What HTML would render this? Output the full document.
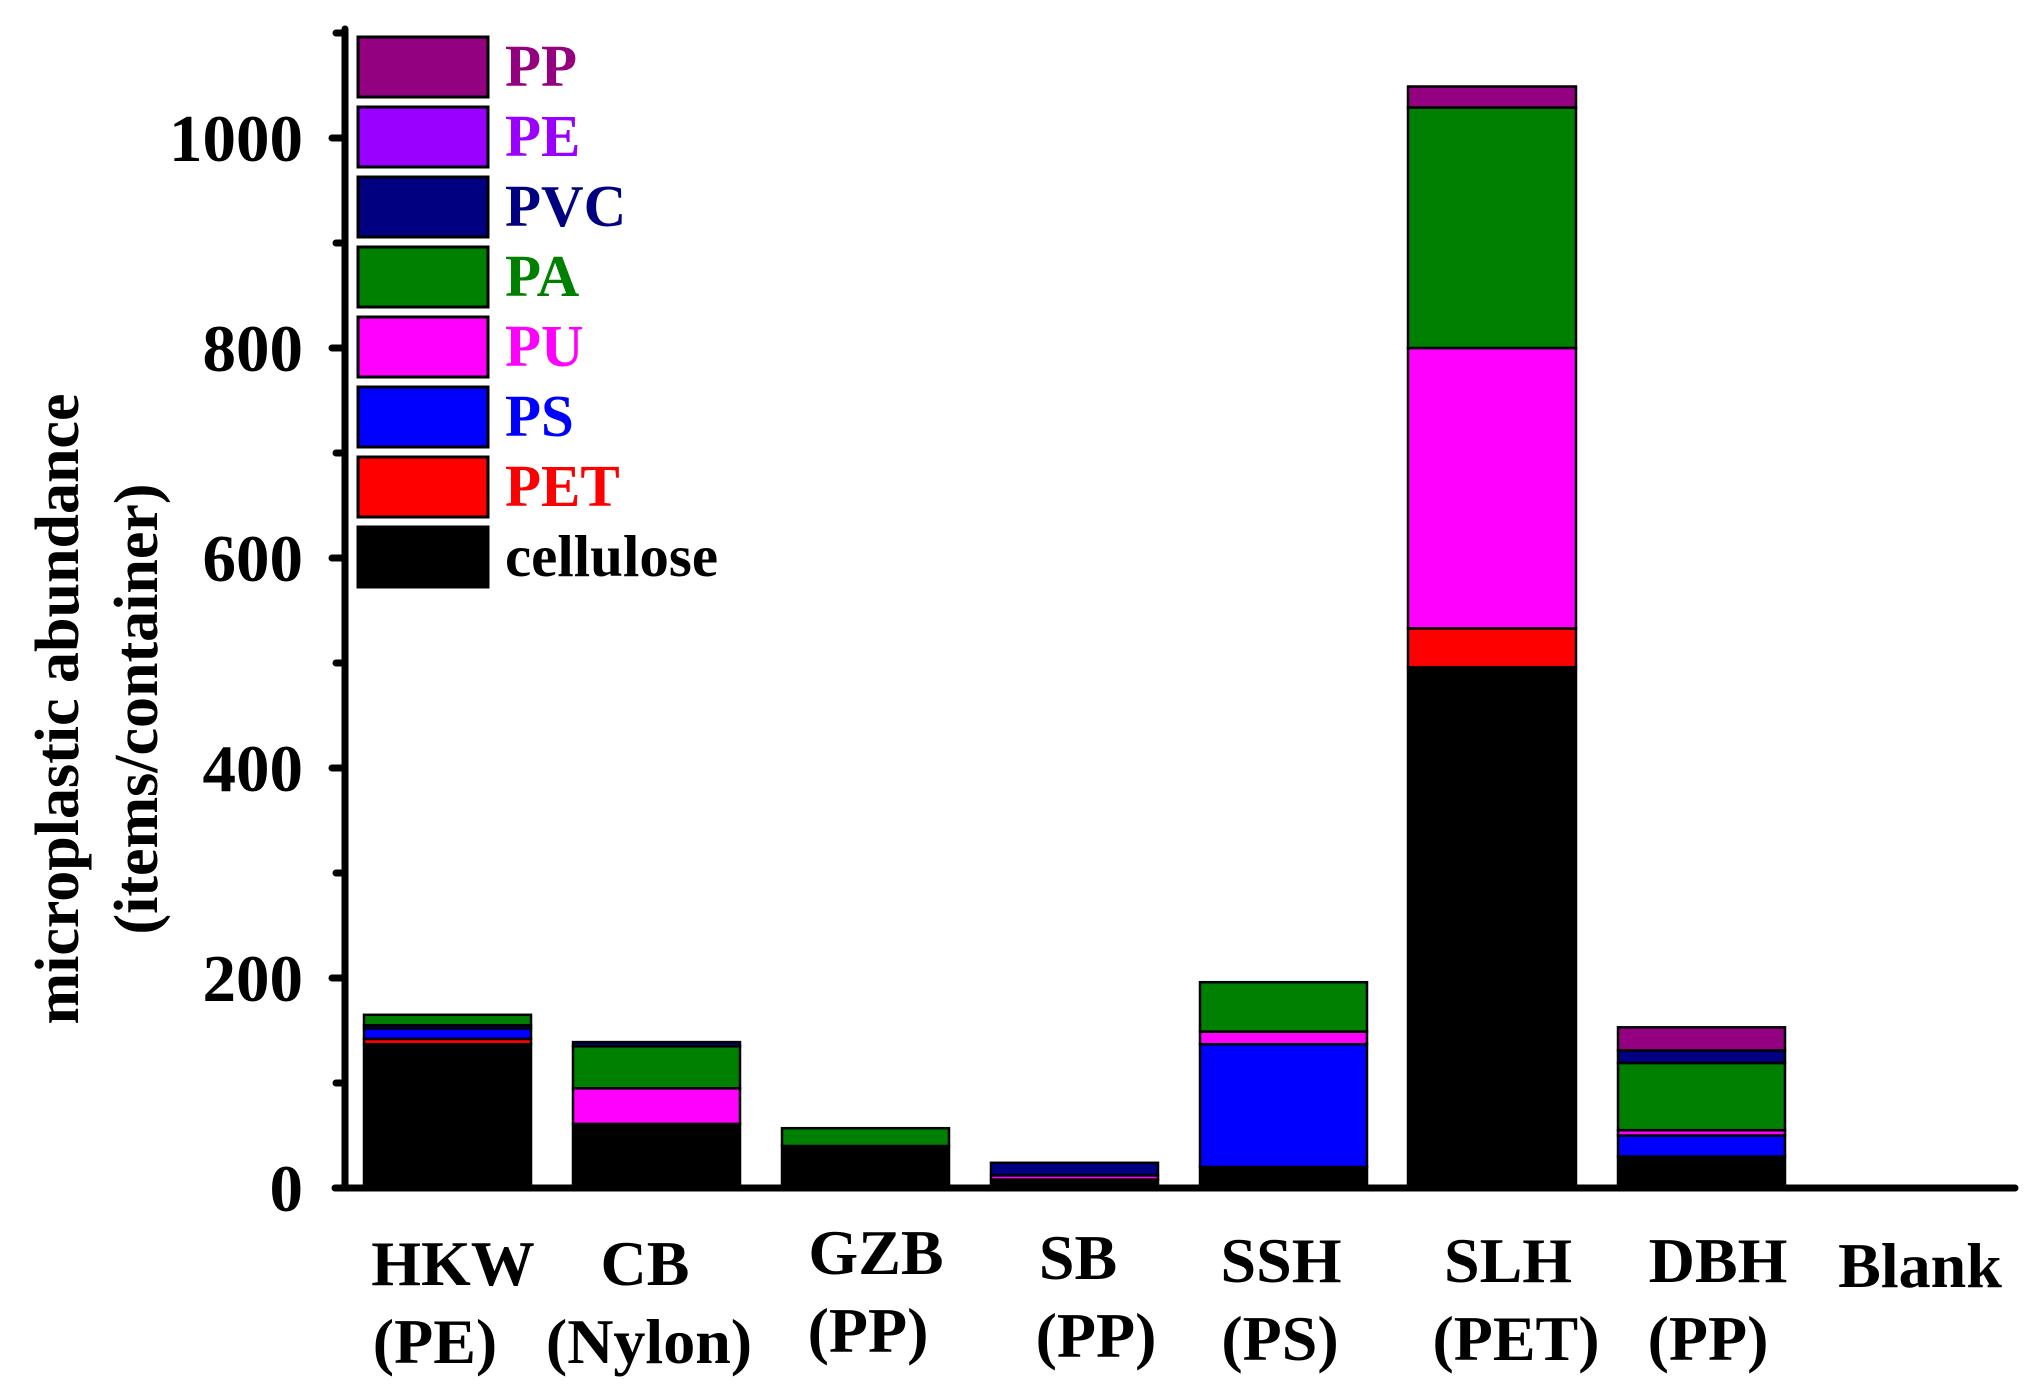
<!DOCTYPE html>
<html><head><meta charset="utf-8"><style>
html,body{margin:0;padding:0;background:#fff;}
svg{display:block;}
text{font-family:"Liberation Serif",serif;font-weight:bold;}
</style></head><body>
<svg width="2040" height="1390" viewBox="0 0 2040 1390" xmlns="http://www.w3.org/2000/svg">
<rect width="2040" height="1390" fill="#fff"/>
<g stroke="#000" stroke-width="2.5">
<rect x="364" y="1044.2" width="167" height="143.8" fill="#000"/>
<rect x="364" y="1038.9" width="167" height="5.3" fill="#f00"/>
<rect x="364" y="1028.4" width="167" height="10.5" fill="#00f"/>
<rect x="364" y="1025.2" width="167" height="3.2" fill="#000080"/>
<rect x="364" y="1014.8" width="167" height="10.4" fill="#008000"/>
<rect x="573" y="1123.9" width="167" height="64.1" fill="#000"/>
<rect x="573" y="1088.3" width="167" height="35.6" fill="#f0f"/>
<rect x="573" y="1046.3" width="167" height="42" fill="#008000"/>
<rect x="573" y="1042.1" width="167" height="4.2" fill="#000080"/>
<rect x="782" y="1146" width="167" height="42" fill="#000"/>
<rect x="782" y="1128.2" width="167" height="17.8" fill="#008000"/>
<rect x="991" y="1179.6" width="167" height="8.4" fill="#000"/>
<rect x="991" y="1175.4" width="167" height="4.2" fill="#f0f"/>
<rect x="991" y="1162.8" width="167" height="12.6" fill="#000080"/>
<rect x="1200" y="1167" width="167" height="21" fill="#000"/>
<rect x="1200" y="1044.2" width="167" height="122.8" fill="#00f"/>
<rect x="1200" y="1031.6" width="167" height="12.6" fill="#f0f"/>
<rect x="1200" y="982.2" width="167" height="49.4" fill="#008000"/>
<rect x="1408" y="667.2" width="168" height="520.8" fill="#000"/>
<rect x="1408" y="628.4" width="168" height="38.8" fill="#f00"/>
<rect x="1408" y="348" width="168" height="280.4" fill="#f0f"/>
<rect x="1408" y="107.5" width="168" height="240.5" fill="#008000"/>
<rect x="1408" y="86.5" width="168" height="21" fill="#930080"/>
<rect x="1618" y="1156.5" width="167" height="31.5" fill="#000"/>
<rect x="1618" y="1135.5" width="167" height="21" fill="#00f"/>
<rect x="1618" y="1130.2" width="167" height="5.3" fill="#f0f"/>
<rect x="1618" y="1063" width="167" height="67.2" fill="#008000"/>
<rect x="1618" y="1050.4" width="167" height="12.6" fill="#000080"/>
<rect x="1618" y="1027.3" width="167" height="23.1" fill="#930080"/>
</g>
<g stroke="#000" stroke-width="7" stroke-linecap="round">
<line x1="345" y1="29" x2="345" y2="1188"/>
<line x1="335" y1="1188" x2="2015" y2="1188"/>
<line x1="332" y1="978" x2="345" y2="978"/>
<line x1="332" y1="768" x2="345" y2="768"/>
<line x1="332" y1="558" x2="345" y2="558"/>
<line x1="332" y1="348" x2="345" y2="348"/>
<line x1="332" y1="138" x2="345" y2="138"/>
<line x1="336" y1="1083" x2="345" y2="1083"/>
<line x1="336" y1="873" x2="345" y2="873"/>
<line x1="336" y1="663" x2="345" y2="663"/>
<line x1="336" y1="453" x2="345" y2="453"/>
<line x1="336" y1="243" x2="345" y2="243"/>
<line x1="336" y1="33" x2="345" y2="33"/>
</g>
<g font-size="67" text-anchor="end">
<text x="303" y="1211">0</text>
<text x="303" y="1001">200</text>
<text x="303" y="791">400</text>
<text x="303" y="581">600</text>
<text x="303" y="371">800</text>
<text x="303" y="161">1000</text>
</g>
<g font-size="62" text-anchor="middle">
<text transform="translate(78,709) rotate(-90)">microplastic abundance</text>
<text transform="translate(157,709) rotate(-90)">(items/container)</text>
</g>
<g stroke="#000" stroke-width="3">
<rect x="358" y="37" width="130" height="60" fill="#930080"/>
<rect x="358" y="107" width="130" height="60" fill="#9900ff"/>
<rect x="358" y="177" width="130" height="60" fill="#000080"/>
<rect x="358" y="247" width="130" height="60" fill="#008000"/>
<rect x="358" y="317" width="130" height="60" fill="#ff00ff"/>
<rect x="358" y="387" width="130" height="60" fill="#0000ff"/>
<rect x="358" y="457" width="130" height="60" fill="#ff0000"/>
<rect x="358" y="527" width="130" height="60" fill="#000"/>
</g>
<g font-size="59">
<text x="505" y="86" fill="#930080">PP</text>
<text x="505" y="156" fill="#9900ff">PE</text>
<text x="505" y="226" fill="#000080">PVC</text>
<text x="505" y="296" fill="#008000">PA</text>
<text x="505" y="366" fill="#ff00ff">PU</text>
<text x="505" y="436" fill="#0000ff">PS</text>
<text x="505" y="506" fill="#ff0000">PET</text>
<text x="505" y="576" fill="#000">cellulose</text>
</g>
<g font-size="64" text-anchor="middle">
<text x="453" y="1285">HKW</text><text x="435" y="1363">(PE)</text>
<text x="645" y="1285">CB</text><text x="649" y="1363">(Nylon)</text>
<text x="876" y="1274">GZB</text><text x="868" y="1352">(PP)</text>
<text x="1078" y="1279">SB</text><text x="1096" y="1357">(PP)</text>
<text x="1281" y="1282">SSH</text><text x="1280" y="1360">(PS)</text>
<text x="1508" y="1282">SLH</text><text x="1516" y="1360">(PET)</text>
<text x="1718" y="1282">DBH</text><text x="1708" y="1360">(PP)</text>
<text x="1920" y="1287">Blank</text>
</g>
</svg>
</body></html>
